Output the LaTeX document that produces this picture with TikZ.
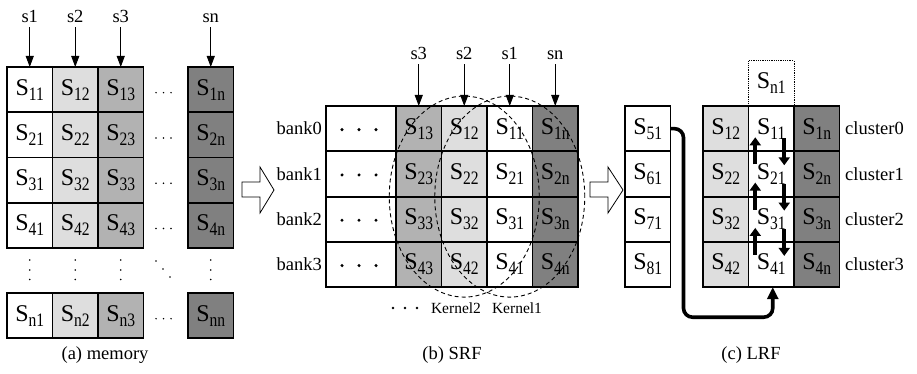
\documentclass[tikz,border=0pt]{standalone}
\usepackage{fontspec}
\usepackage{graphicx}
\setmainfont{Liberation Serif}
\usetikzlibrary{arrows.meta,calc,shapes.geometric}

\definecolor{lgray}{gray}{0.87}
\definecolor{mgray}{gray}{0.70}
\definecolor{dgray}{gray}{0.50}

% S with a lowered, slightly narrowed index
\newcommand{\Sv}[1]{{\fontsize{24}{24}\selectfont S}\raisebox{-5pt}{\fontsize{19}{19}\selectfont\scalebox{0.82}[1]{#1}}}

\tikzset{
  cell/.style={draw, line width=1.8pt, minimum width=45.5pt, minimum height=45.3pt,
               inner sep=0pt, outer sep=0pt},
  lbl/.style={font=\fontsize{18.5}{20}\selectfont, inner sep=0pt},
  captext/.style={font=\fontsize{18.5}{20}\selectfont, inner sep=0pt, anchor=base},
  feed/.style={line width=0.9pt, -{Triangle[length=11pt,width=8pt]}, shorten <=4pt},
  shiftarrow/.style={line width=3.6pt, -{Triangle[length=8pt,width=11pt]}},
  routearrow/.style={line width=3.6pt, -{Triangle[length=12pt,width=11pt]}, rounded corners=9pt},
  hollowarrow/.style={draw, line width=0.8pt, fill=white},
  kernelring/.style={draw, ellipse, dashed, line width=0.9pt, dash pattern=on 4pt off 3pt,
                 minimum width=150pt, minimum height=201pt, inner sep=0pt},
}
\newcommand{\smalldot}[1]{\fill #1 circle[radius=0.85pt];}
\newcommand{\bigdot}[1]{\fill #1 circle[radius=1.7pt];}

\begin{document}
\begin{tikzpicture}[x=1pt, y=-1pt]
\useasboundingbox (0,0) rectangle (917,374);

% ---------------- (a) memory ----------------
\foreach \r/\y in {1/89.65, 2/134.95, 3/180.25, 4/225.55, n/315.65} {
  \node[cell] (m\r1) at (29.75,\y) {\Sv{\r1}};
  \node[cell, fill=lgray] (m\r2) at (75.25,\y) {\Sv{\r2}};
  \node[cell, fill=mgray] (m\r3) at (120.75,\y) {\Sv{\r3}};
  \node[cell, fill=dgray] (m\r n) at (210.75,\y) {\Sv{\r n}};
  \foreach \x in {156,163.5,171} {\smalldot{(\x,\y+3)}}
}
% vertical and diagonal ellipsis between row 4 and row n
\foreach \x in {29.75,75.25,120.75,210.75}
  \foreach \y in {260,270,279.5} {\smalldot{(\x,\y)}}
\foreach \x/\y in {156/261,163/269,170/277} {\smalldot{(\x,\y)}}

\node[lbl, anchor=base] (ma1) at (29.75,23) {s1};
\node[lbl, anchor=base] (ma2) at (75.25,23) {s2};
\node[lbl, anchor=base] (ma3) at (120.75,23) {s3};
\node[lbl, anchor=base] (man) at (210.75,23) {sn};
\draw[feed] (ma1.south) -- (m11.north);
\draw[feed] (ma2.south) -- (m12.north);
\draw[feed] (ma3.south) -- (m13.north);
\draw[feed] (man.south) -- (m1n.north);

\node[captext] (capa) at (105,359) {(a) memory};

% block arrow memory -> SRF
\draw[hollowarrow] (242,182) -- (260,182) -- (260,167) -- (274,190) -- (260,213)
  -- (260,197) -- (242,197) -- cycle;

% ---------------- (b) SRF ----------------
\foreach \r/\y/\b in {1/128.65/0, 2/173.95/1, 3/219.25/2, 4/264.55/3} {
  \node[cell, minimum width=70pt] (s\r d) at (361,\y) {};
  \foreach \x in {342,359,376} {\bigdot{(\x,\y+1)}}
  \node[cell, fill=mgray] (s\r3) at (418.75,\y) {\Sv{\r3}};
  \node[cell, fill=lgray] (s\r2) at (464.25,\y) {\Sv{\r2}};
  \node[cell] (s\r1) at (509.75,\y) {\Sv{\r1}};
  \node[cell, fill=dgray] (s\r n) at (555.25,\y) {\Sv{\r n}};
  \node[lbl, anchor=east] (bank\b) at (322,\y) {bank\b};
}

\node[kernelring] (k2) at (464.25,196.6) {};
\node[kernelring] (k1) at (509.75,196.6) {};

\node[lbl, anchor=base] (sb3) at (418.75,60) {s3};
\node[lbl, anchor=base] (sb2) at (464.25,60) {s2};
\node[lbl, anchor=base] (sb1) at (509.75,60) {s1};
\node[lbl, anchor=base] (sbn) at (555.25,60) {sn};
\draw[feed] (sb3.south) -- (s13.north);
\draw[feed] (sb2.south) -- (s12.north);
\draw[feed] (sb1.south) -- (s11.north);
\draw[feed] (sbn.south) -- (s1n.north);

\foreach \x in {393,405,417} {\fill (\x,308) circle[radius=1.3pt];}
\node[anchor=base, inner sep=0pt, font=\fontsize{15.5}{17}\selectfont] (kl2) at (456,313) {Kernel2};
\node[anchor=base, inner sep=0pt, font=\fontsize{15.5}{17}\selectfont] (kl1) at (517,313) {Kernel1};

\node[captext] (capb) at (452,359) {(b) SRF};

% block arrow SRF -> LRF
\draw[hollowarrow] (590,182) -- (608,182) -- (608,167) -- (623,190) -- (608,213)
  -- (608,197) -- (590,197) -- cycle;

% ---------------- (c) LRF ----------------
\foreach \r/\q/\y/\b in {1/5/128.65/0, 2/6/173.95/1, 3/7/219.25/2, 4/8/264.55/3} {
  \node[cell] (l\q) at (647.75,\y) {\Sv{\q1}};
  \node[cell, fill=lgray] (c\r2) at (725.75,\y) {\Sv{\r2}};
  \node[cell] (c\r1) at (771.25,\y) {\Sv{\r1}};
  \node[cell, fill=dgray] (c\r n) at (816.75,\y) {\Sv{\r n}};
  \node[lbl, anchor=west] (cl\b) at (845,\y) {cluster\b};
}
\node[cell, line width=0.8pt, densely dotted] (cn1) at (771.25,83.5) {\Sv{n1}};

% shifts between neighbouring clusters
\foreach \r in {2,3,4} {
  \draw[shiftarrow] ($(c\r1.north)+(-16,13)$) -- ($(c\r1.north)+(-16,-14)$);
  \draw[shiftarrow] ($(c\r1.north)+(13,-13)$) -- ($(c\r1.north)+(13,14)$);
}

% S51 fed into cluster3
\coordinate (bend) at ($(c41.south)+(1.5,30)$);
\draw[routearrow] (l5.east) -- ++(13,0) |- (bend) -- ($(c41.south)+(1.5,0)$);

\node[captext] (capc) at (751,359) {(c) LRF};
\end{tikzpicture}
\end{document}
